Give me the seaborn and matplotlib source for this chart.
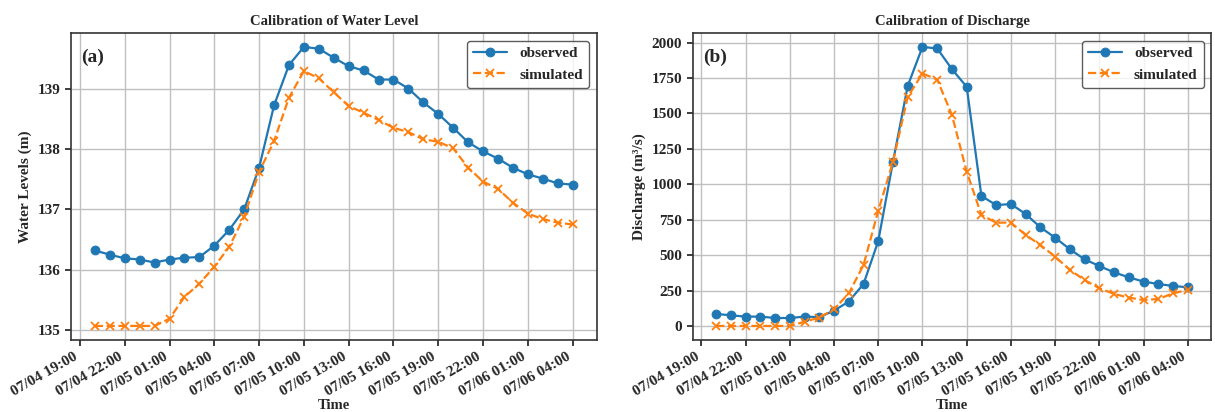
import matplotlib as mpl
import matplotlib.dates as mdates
import matplotlib.pyplot as plt
import pandas as pd
import seaborn as sns

# hourly timestamps, 07/04 20:00 -> 07/06 04:00
times = pd.date_range("2023-07-04 20:00", "2023-07-06 04:00", freq="h")

wl_observed = [
    136.32, 136.25, 136.19, 136.17, 136.12, 136.17, 136.20, 136.21, 136.40,
    136.66, 137.00, 137.69, 138.72, 139.39, 139.69, 139.66, 139.51, 139.37,
    139.30, 139.15, 139.15, 139.00, 138.77, 138.58, 138.35, 138.11, 137.96,
    137.84, 137.69, 137.58, 137.51, 137.43, 137.41,
]
wl_simulated = [
    135.07, 135.07, 135.07, 135.07, 135.07, 135.19, 135.55, 135.77, 136.05,
    136.38, 136.88, 137.62, 138.13, 138.85, 139.29, 139.17, 138.94, 138.71,
    138.60, 138.48, 138.35, 138.28, 138.16, 138.12, 138.01, 137.69, 137.46,
    137.34, 137.11, 136.93, 136.84, 136.78, 136.75,
]
q_observed = [
    85, 75, 66, 66, 56, 56, 66, 62, 108, 172, 296, 599, 1159, 1694, 1969,
    1958, 1812, 1687, 917, 853, 860, 790, 696, 623, 541, 470, 423, 378, 343,
    313, 296, 282, 273,
]
q_simulated = [
    0, 0, 0, 0, 0, 0, 30, 59, 118, 230, 430, 813, 1159, 1617, 1781, 1739,
    1488, 1088, 783, 729, 729, 642, 571, 489, 395, 324, 266, 226, 200, 183,
    190, 230, 254,
]

sns.set_theme(style="whitegrid")
mpl.rcParams["font.family"] = ["Liberation Serif", "DejaVu Serif"]
mpl.rcParams["font.weight"] = "bold"
mpl.rcParams["axes.labelweight"] = "bold"
mpl.rcParams["axes.titleweight"] = "bold"
mpl.rcParams["axes.edgecolor"] = "#333333"
mpl.rcParams["grid.color"] = "#c0c0c0"

fig = plt.figure(figsize=(12.15, 4.12), dpi=100)
ax1 = fig.add_axes([0.0584, 0.175, 0.4326, 0.745])
ax2 = fig.add_axes([0.570, 0.175, 0.427, 0.745])

panels = [
    (ax1, wl_observed, wl_simulated, "Calibration of Water Level",
     "Water Levels (m)", "(a)"),
    (ax2, q_observed, q_simulated, "Calibration of Discharge",
     "Discharge (m³/s)", "(b)"),
]

for ax, obs, sim, title, ylabel, tag in panels:
    sns.lineplot(x=times, y=obs, ax=ax, color="#1f77b4", marker="o",
                 markersize=6.3, markeredgecolor="#1f77b4", linewidth=1.6,
                 label="observed")
    sns.lineplot(x=times, y=sim, ax=ax, color="#ff7f0e", marker="x",
                 markersize=6.3, markeredgecolor="#ff7f0e", markeredgewidth=1.3,
                 linewidth=1.6, linestyle="--", label="simulated")
    ax.set_title(title, fontsize=10.5, pad=6)
    ax.set_xlabel("Time", fontsize=10.5, labelpad=0)
    ax.set_ylabel(ylabel, fontsize=11)
    ax.xaxis.set_major_locator(mdates.HourLocator(byhour=range(1, 24, 3)))
    ax.xaxis.set_major_formatter(mdates.DateFormatter("%m/%d %H:%M"))
    ax.tick_params(axis="both", labelsize=11, length=4, bottom=True, left=True)
    for lbl in ax.get_xticklabels():
        lbl.set_rotation(30)
        lbl.set_ha("right")
        lbl.set_fontweight("bold")
    for lbl in ax.get_yticklabels():
        lbl.set_fontweight("bold")
    ax.text(0.02, 0.95, tag, transform=ax.transAxes, fontsize=14,
            fontweight="bold", va="top", ha="left")
    ax.grid(True, color="#c0c0c0", linewidth=1)
    for sp in ax.spines.values():
        sp.set_linewidth(1.2)
    leg = ax.legend(loc="upper right", fontsize=11, frameon=True,
                    edgecolor="#333333", handlelength=2.2)
    leg.get_frame().set_linewidth(1.0)
    for t in leg.get_texts():
        t.set_fontweight("bold")

ax1.set_yticks([135, 136, 137, 138, 139])
ax2.set_yticks(range(0, 2001, 250))

fig.savefig("out.png", dpi=100)
